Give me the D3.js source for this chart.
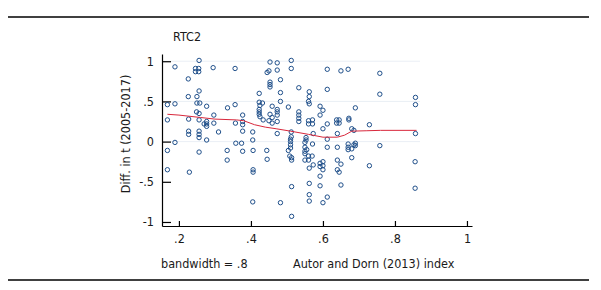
<!DOCTYPE html>
<html>
<head>
<meta charset="utf-8">
<script src="https://cdn.jsdelivr.net/npm/d3@7"></script>
<style>
  body { margin: 0; background: #fff; }
  svg text { font-family: "Liberation Sans Narrow", "DejaVu Sans Condensed", "Roboto", sans-serif; fill: #1a1a1a; }
</style>
</head>
<body>
<div id="chart"></div>
<script>
// scatter points: [Autor-Dorn index, difference]
const pointsX = [
  .168, .168, .168, .168, .189, .189, .189,
  .226, .226, .227, .227, .227, .229,
  .256, .246, .255, .246, .255, .256, .25, .25, .258, .249, .256, .256, .256, .256, .256, .256,
  .277, .277, .277, .277, .27, .277,
  .295, .297, .297, .31,
  .335, .334, .334,
  .356, .356, .357, .358,
  .377, .377, .377, .377, .374, .377,
  .405, .405, .406, .406, .406, .405,
  .423, .423, .425, .432, .423, .423, .423, .425, .434,
  .453, .445, .45, .453, .453, .453, .459, .453, .459, .45, .459, .444, .445,
  .473, .473, .482, .482, .482, .473, .473, .473, .473, .473, .482,
  .512, .512, .504, .512, .512, .51, .51, .51, .51, .504, .508, .513, .513, .513, .513,
  .533, .533, .533, .533, .533,
  .562, .562, .56, .562, .56, .56, .553, .553, .55, .55, .555, .55, .55, .56, .55, .56, .562, .562, .562, .562,
  .571, .571, .573, .571, .57, .573,
  .592, .60, .592, .60, .60, .592, .60, .592, .60, .592, .592, .60,
  .612, .612, .612, .612, .612, .612,
  .65, .638, .645, .638, .645, .64, .64, .64, .65, .64, .645, .65,
  .67, .69, .672, .672, .68, .686, .69, .67, .686, .69, .67, .68, .67, .68,
  .729, .729,
  .758, .758, .758,
  .857, .857, .857, .856, .856
];
const pointsY = [
  .46, .27, -.11, -.35, .93, .47, -.01,
  .78, .56, .28, .13, .09, -.38,
  1.01, .91, .91, .87, .87, .63, .56, .48, .48, .37, .35, .27, .13, .09, .05, -.13,
  .44, .25, .22, .19, .22, .02,
  .92, .33, .23, .12,
  .42, -.11, -.23,
  .91, .46, .23, -.02,
  .33, .25, .21, .13, -.02, -.12,
  .12, .02, -.11, -.35, -.38, -.75,
  .60, .49, .45, .48, .40, .37, .34, .31, .27,
  .99, .86, .88, .74, .71, .68, .44, .34, .30, .26, .23, -.11, -.22,
  .98, .89, .77, .61, .50, .40, .37, .33, .25, .10, -.76,
  1.01, .91, .43, .12, .06, .03, .0, -.04, -.08, -.11, -.18, -.20, -.23, -.56, -.93,
  .67, .37, .33, .29, .25,
  .62, .56, .50, .47, .26, .22, .05, .02, -.01, -.07, -.10, -.12, -.15, -.18, -.23, -.23, -.33, -.52, -.66, -.74,
  .27, .22, .10, -.03, -.18, -.29,
  .44, .39, .33, .16, -.25, -.27, -.30, -.31, -.35, -.43, -.55, -.76,
  .90, .65, .22, .03, -.07, -.69,
  .88, .27, .27, .23, .23, .10, -.07, -.23, -.28, -.35, -.38, -.54,
  .90, .42, .29, .27, .16, .14, -.02, -.03, -.04, -.05, -.07, -.09, -.10, -.20,
  .21, -.30,
  .85, .59, -.05,
  .55, .46, .10, -.25, -.58
];

// lowess curve
const smoothX = [.168, .20, .26, .30, .36, .38, .41, .44, .47, .51, .56, .60, .64, .66, .68, .72, .76, .86];
const smoothY = [.34, .33, .30, .28, .27, .26, .21, .18, .16, .13, .09, .055, .055, .08, .13, .135, .14, .14];

const xTicks = [.2, .4, .6, .8, 1];
const yTicks = [1, .5, 0, -.5, -1];
const gridTicks = [1, .5, 0];

const fmt = v => v === 0 ? "0" : String(v).replace("0.", ".");

const W = 601, H = 290;
const svg = d3.select("#chart").append("svg").attr("width", W).attr("height", H);

const x = d3.scaleLinear().domain([0.153, 1.014]).range([162, 472]);
const y = d3.scaleLinear().domain([-1.05, 1.09]).range([226, 54]);

// horizontal rules above and below the figure
svg.append("line").attr("x1", 8).attr("x2", 589).attr("y1", 17).attr("y2", 17)
  .attr("stroke", "#000").attr("stroke-width", 1.4);
svg.append("line").attr("x1", 8).attr("x2", 589).attr("y1", 280).attr("y2", 280)
  .attr("stroke", "#000").attr("stroke-width", 1.4);

// faint grid
svg.append("g").selectAll("line").data(gridTicks).join("line")
  .attr("x1", 162).attr("x2", 420)
  .attr("y1", d => y(d)).attr("y2", d => y(d))
  .attr("stroke", "#eaeff5").attr("stroke-width", 1);

// axes
const xAxis = svg.append("g").attr("transform", "translate(0,226)")
  .call(d3.axisBottom(x).tickValues(xTicks).tickFormat(fmt).tickSizeInner(-5).tickSizeOuter(0).tickPadding(8));
const yAxis = svg.append("g").attr("transform", "translate(162,0)")
  .call(d3.axisLeft(y).tickValues(yTicks).tickFormat(fmt).tickSizeInner(-9).tickSizeOuter(0).tickPadding(8));
[xAxis, yAxis].forEach(g => {
  g.select(".domain").attr("stroke", "#000").attr("stroke-width", 1.2);
  g.selectAll(".tick line").attr("stroke", "#000").attr("stroke-width", 1.2);
  g.selectAll("text").attr("font-size", 12.5).attr("fill", "#1a1a1a")
    .attr("font-family", null);
});

// points
svg.append("g").selectAll("circle").data(pointsX.map((d, i) => [d, pointsY[i]])).join("circle")
  .attr("cx", d => x(d[0])).attr("cy", d => y(d[1])).attr("r", 2.2)
  .attr("fill", "none").attr("stroke", "#1f4f8a").attr("stroke-width", 1);

// lowess
svg.append("path")
  .datum(smoothX.map((d, i) => [d, smoothY[i]]))
  .attr("d", d3.line().x(d => x(d[0])).y(d => y(d[1])))
  .attr("fill", "none").attr("stroke", "#d8283c").attr("stroke-width", 1);

// titles
svg.append("text").attr("x", 173).attr("y", 41).attr("font-size", 12.5).text("RTC2");
svg.append("text").attr("transform", "translate(130,134) rotate(-90)")
  .attr("text-anchor", "middle").attr("font-size", 12.5).text("Diff. in t (2005-2017)");
svg.append("text").attr("x", 161).attr("y", 268).attr("font-size", 12.5).text("bandwidth = .8");
svg.append("text").attr("x", 293).attr("y", 268).attr("font-size", 12.5).text("Autor and Dorn (2013) index");
</script>
</body>
</html>
